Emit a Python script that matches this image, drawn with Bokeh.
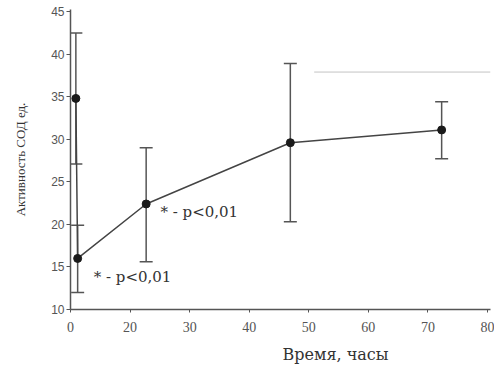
from bokeh.plotting import figure
from bokeh.models import (ColumnDataSource, Whisker, TeeHead, FixedTicker, Range1d, Title)
from bokeh.core.properties import value
from bokeh.embed import file_html
from bokeh.resources import INLINE

# axis positions (tick at 10 is labelled "0" on the original, broken axis)
time_pos = [10.9, 11.2, 22.7, 46.9, 72.3]
activity = [34.8, 16.0, 22.4, 29.6, 31.1]
err_low = [27.1, 12.0, 15.6, 20.3, 27.7]
err_high = [42.5, 19.9, 29.0, 38.9, 34.4]

x_ticks = [10, 20, 30, 40, 50, 60, 70, 80]
x_tick_labels = ["0", "20", "30", "40", "50", "60", "70", "80"]
y_ticks = [10, 15, 20, 25, 30, 35, 40, 45]

note_x = [13.9, 25.1]
note_y = [13.8, 21.4]
note_text = ["* - p<0,01", "* - p<0,01"]

# faint scan line in the upper right of the original
scan_x0 = [50.9]
scan_x1 = [80.5]
scan_y = [37.9]

p = figure(frame_width=420, frame_height=300, output_backend="svg",
           toolbar_location=None, x_range=Range1d(10, 80.5), y_range=Range1d(10, 45.25),
           min_border_left=70, min_border_right=4, min_border_top=9, min_border_bottom=16)
p.outline_line_color = None
p.xgrid.visible = False
p.ygrid.visible = False
p.background_fill_color = "white"

src = ColumnDataSource(dict(x=time_pos, y=activity, lo=err_low, hi=err_high))

p.segment(x0=scan_x0, x1=scan_x1, y0=scan_y, y1=scan_y, line_color="#c4c4c4", line_width=1)

w = Whisker(base="x", lower="lo", upper="hi", source=src, line_color="#555555", line_width=1.5,
            upper_head=TeeHead(size=13, line_color="#555555", line_width=1.5),
            lower_head=TeeHead(size=13, line_color="#555555", line_width=1.5))
p.add_layout(w)

p.line("x", "y", source=src, line_color="#444444", line_width=1.5)
p.scatter("x", "y", source=src, size=8, fill_color="#1a1a1a", line_color="#1a1a1a")

p.text(x=note_x, y=note_y, text=note_text, text_font=value("DejaVu Serif"),
       text_font_size="15px", text_color="#333333", text_baseline="middle", text_align="left")

# axes
p.xaxis.ticker = FixedTicker(ticks=x_ticks)
p.xaxis.major_label_overrides = {t: l for t, l in zip(x_ticks, x_tick_labels)}
p.yaxis.ticker = FixedTicker(ticks=y_ticks)
for ax in (p.xaxis, p.yaxis):
    ax.axis_line_color = "#555555"
    ax.axis_line_width = 1.5
    ax.major_tick_line_color = "#555555"
    ax.minor_tick_line_color = None
    ax.major_tick_in = 0
    ax.major_label_text_color = "#555555"
p.xaxis.major_label_text_font = "Liberation Serif"
p.xaxis.major_label_text_font_size = "14px"
p.yaxis.major_label_text_font = "Liberation Sans"
p.yaxis.major_label_text_font_size = "12px"
p.xaxis.major_tick_out = 3
p.xaxis.major_label_standoff = 9
p.yaxis.major_tick_out = 4
p.yaxis.major_label_standoff = 2

p.yaxis.axis_label = "Активность СОД ед."
p.yaxis.axis_label_text_font = "Liberation Serif"
p.yaxis.axis_label_text_font_size = "13px"
p.yaxis.axis_label_text_font_style = "normal"
p.yaxis.axis_label_text_color = "#333333"
p.yaxis.axis_label_standoff = 20

p.add_layout(Title(text="Время, часы", align="left", offset=212, text_font="DejaVu Serif",
                   text_font_size="16px", text_font_style="normal", text_color="#333333",
                   standoff=17), "below")

open("out.html", "w").write(file_html(p, INLINE))
